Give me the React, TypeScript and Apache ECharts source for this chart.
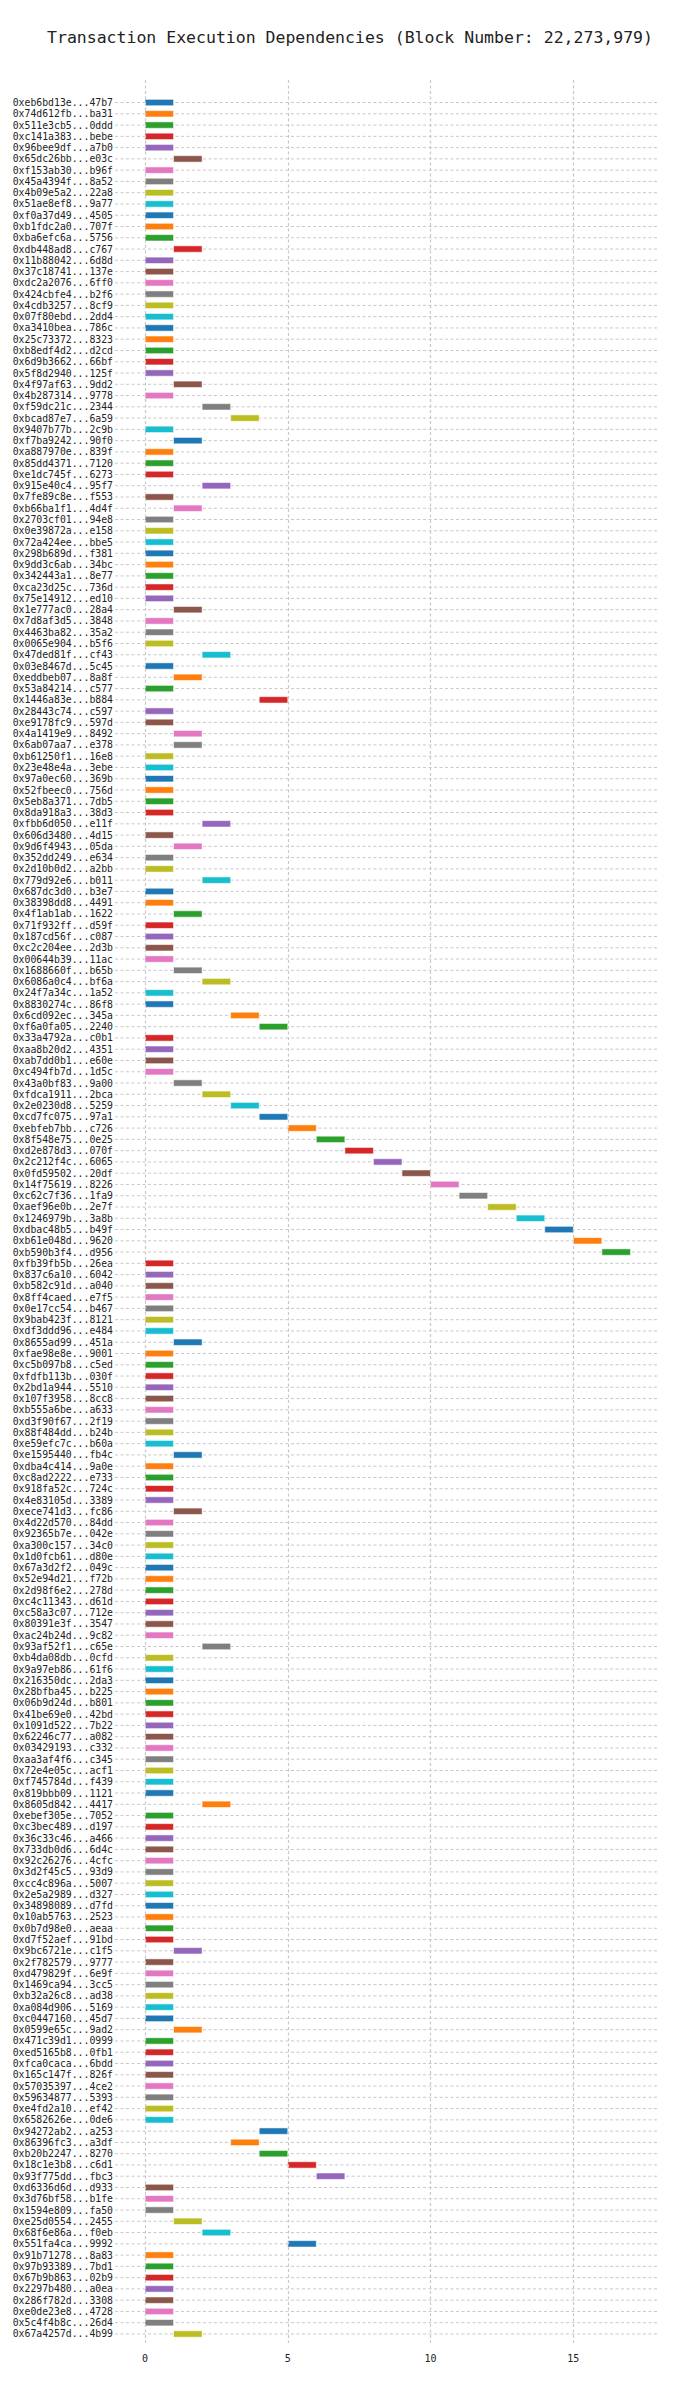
import { useEffect, useRef } from "react";
import * as echarts from "echarts";

const TITLE = "Transaction Execution Dependencies (Block Number: 22,273,979)";

const txLabels = [
  "0xeb6bd13e...47b7", "0x74d612fb...ba31", "0x511e3cb5...0ddd", "0xc141a383...bebe", "0x96bee9df...a7b0",
  "0x65dc26bb...e03c", "0xf153ab30...b96f", "0x45a4394f...8a52", "0x4b09e5a2...22a8", "0x51ae8ef8...9a77",
  "0xf0a37d49...4505", "0xb1fdc2a0...707f", "0xba6efc6a...5756", "0xdb448ad8...c767", "0x11b88042...6d8d",
  "0x37c18741...137e", "0xdc2a2076...6ff0", "0x424cbfe4...b2f6", "0x4cdb3257...8cf9", "0x07f80ebd...2dd4",
  "0xa3410bea...786c", "0x25c73372...8323", "0xb8edf4d2...d2cd", "0x6d9b3662...66bf", "0x5f8d2940...125f",
  "0x4f97af63...9dd2", "0x4b287314...9778", "0xf59dc21c...2344", "0xbcad87e7...6a59", "0x9407b77b...2c9b",
  "0xf7ba9242...90f0", "0xa887970e...839f", "0x85dd4371...7120", "0xe1dc745f...6273", "0x915e40c4...95f7",
  "0x7fe89c8e...f553", "0xb66ba1f1...4d4f", "0x2703cf01...94e8", "0x0e39872a...e158", "0x72a424ee...bbe5",
  "0x298b689d...f381", "0x9dd3c6ab...34bc", "0x342443a1...8e77", "0xca23d25c...736d", "0x75e14912...ed10",
  "0x1e777ac0...28a4", "0x7d8af3d5...3848", "0x4463ba82...35a2", "0x0065e904...b5f6", "0x47ded81f...cf43",
  "0x03e8467d...5c45", "0xeddbeb07...8a8f", "0x53a84214...c577", "0x1446a83e...b884", "0x28443c74...c597",
  "0xe9178fc9...597d", "0x4a1419e9...8492", "0x6ab07aa7...e378", "0xb61250f1...16e8", "0x23e48e4a...3ebe",
  "0x97a0ec60...369b", "0x52fbeec0...756d", "0x5eb8a371...7db5", "0x8da918a3...38d3", "0xfbb6d050...e11f",
  "0x606d3480...4d15", "0x9d6f4943...05da", "0x352dd249...e634", "0x2d10b0d2...a2bb", "0x779d92e6...b011",
  "0x687dc3d0...b3e7", "0x38398dd8...4491", "0x4f1ab1ab...1622", "0x71f932ff...d59f", "0x187cd56f...c087",
  "0xc2c204ee...2d3b", "0x00644b39...11ac", "0x1688660f...b65b", "0x6086a0c4...bf6a", "0x24f7a34c...1a52",
  "0x8830274c...86f8", "0x6cd092ec...345a", "0xf6a0fa05...2240", "0x33a4792a...c0b1", "0xaa8b20d2...4351",
  "0xab7dd0b1...e60e", "0xc494fb7d...1d5c", "0x43a0bf83...9a00", "0xfdca1911...2bca", "0x2e0230d8...5259",
  "0xcd7fc075...97a1", "0xebfeb7bb...c726", "0x8f548e75...0e25", "0xd2e878d3...070f", "0x2c212f4c...6065",
  "0x0fd59502...20df", "0x14f75619...8226", "0xc62c7f36...1fa9", "0xaef96e0b...2e7f", "0x1246979b...3a8b",
  "0xdbac48b5...b49f", "0xb61e048d...9620", "0xb590b3f4...d956", "0xfb39fb5b...26ea", "0x837c6a10...6042",
  "0xb582c91d...a040", "0x8ff4caed...e7f5", "0x0e17cc54...b467", "0x9bab423f...8121", "0xdf3ddd96...e484",
  "0x8655ad99...451a", "0xfae98e8e...9001", "0xc5b097b8...c5ed", "0xfdfb113b...030f", "0x2bd1a944...5510",
  "0x107f3958...8cc8", "0xb555a6be...a633", "0xd3f90f67...2f19", "0x88f484dd...b24b", "0xe59efc7c...b60a",
  "0xe1595440...fb4c", "0xdba4c414...9a0e", "0xc8ad2222...e733", "0x918fa52c...724c", "0x4e83105d...3389",
  "0xece741d3...fc86", "0x4d22d570...84dd", "0x92365b7e...042e", "0xa300c157...34c0", "0x1d0fcb61...d80e",
  "0x67a3d2f2...049c", "0x52e94d21...f72b", "0x2d98f6e2...278d", "0xc4c11343...d61d", "0xc58a3c07...712e",
  "0x80391e3f...3547", "0xac24b24d...9c82", "0x93af52f1...c65e", "0xb4da08db...0cfd", "0x9a97eb86...61f6",
  "0x216350dc...2da3", "0x28bfba45...b225", "0x06b9d24d...b801", "0x41be69e0...42bd", "0x1091d522...7b22",
  "0x62246c77...a082", "0x03429193...c332", "0xaa3af4f6...c345", "0x72e4e05c...acf1", "0xf745784d...f439",
  "0x819bbb09...1121", "0x8605d842...4417", "0xebef305e...7052", "0xc3bec489...d197", "0x36c33c46...a466",
  "0x733db0d6...6d4c", "0x92c26276...4cfc", "0x3d2f45c5...93d9", "0xcc4c896a...5007", "0x2e5a2989...d327",
  "0x34898089...d7fd", "0x10ab5763...2523", "0x0b7d98e0...aeaa", "0xd7f52aef...91bd", "0x9bc6721e...c1f5",
  "0x2f782579...9777", "0xd479829f...6e9f", "0x1469ca94...3cc5", "0xb32a26c8...ad38", "0xa084d906...5169",
  "0xc0447160...45d7", "0x0599e65c...9ad2", "0x471c39d1...0999", "0xed5165b8...0fb1", "0xfca0caca...6bdd",
  "0x165c147f...826f", "0x57035397...4ce2", "0x59634877...5393", "0xe4fd2a10...ef42", "0x6582626e...0de6",
  "0x94272ab2...a253", "0x86396fc3...a3df", "0xb20b2247...8270", "0x18c1e3b8...c6d1", "0x93f775dd...fbc3",
  "0xd6336d6d...d933", "0x3d76bf58...b1fe", "0x1594e809...fa50", "0xe25d0554...2455", "0x68f6e86a...f0eb",
  "0x551fa4ca...9992", "0x91b71278...8a83", "0x97b93389...7bd1", "0x67b9b863...02b9", "0x2297b480...a0ea",
  "0x286f782d...3308", "0xe0de23e8...4728", "0x5c4f4b8c...26d4", "0x67a4257d...4b99",
];

// execution start slot of each transaction (each one lasts one slot)
const txStarts = [
  0, 0, 0, 0, 0, 1, 0, 0, 0, 0,
  0, 0, 0, 1, 0, 0, 0, 0, 0, 0,
  0, 0, 0, 0, 0, 1, 0, 2, 3, 0,
  1, 0, 0, 0, 2, 0, 1, 0, 0, 0,
  0, 0, 0, 0, 0, 1, 0, 0, 0, 2,
  0, 1, 0, 4, 0, 0, 1, 1, 0, 0,
  0, 0, 0, 0, 2, 0, 1, 0, 0, 2,
  0, 0, 1, 0, 0, 0, 0, 1, 2, 0,
  0, 3, 4, 0, 0, 0, 0, 1, 2, 3,
  4, 5, 6, 7, 8, 9, 10, 11, 12, 13,
  14, 15, 16, 0, 0, 0, 0, 0, 0, 0,
  1, 0, 0, 0, 0, 0, 0, 0, 0, 0,
  1, 0, 0, 0, 0, 1, 0, 0, 0, 0,
  0, 0, 0, 0, 0, 0, 0, 2, 0, 0,
  0, 0, 0, 0, 0, 0, 0, 0, 0, 0,
  0, 2, 0, 0, 0, 0, 0, 0, 0, 0,
  0, 0, 0, 0, 1, 0, 0, 0, 0, 0,
  0, 1, 0, 0, 0, 0, 0, 0, 0, 0,
  4, 3, 4, 5, 6, 0, 0, 0, 1, 2,
  5, 0, 0, 0, 0, 0, 0, 0, 1,
];

const xTicks = [0, 5, 10, 15];

const palette = ["#1f77b4", "#ff7f0e", "#2ca02c", "#d62728", "#9467bd", "#8c564b", "#e377c2", "#7f7f7f", "#bcbd22", "#17becf"];

const MONO = "'DejaVu Sans Mono', monospace";

export default function App() {
  const ref = useRef<HTMLDivElement | null>(null);

  useEffect(() => {
    document.body.style.margin = "0";
    if (!ref.current) return;
    const chart = echarts.init(ref.current, undefined, { renderer: "svg" });
    const data = txStarts.map((s, i) => [s, i, s + 1]);
    chart.setOption({
      animation: false,
      backgroundColor: "#ffffff",
      title: {
        text: TITLE,
        left: "center",
        top: 24,
        textStyle: { fontFamily: MONO, fontSize: 16.5, fontWeight: "normal", color: "#222" },
      },
      grid: { left: 115, right: 41, top: 80, bottom: 45 },
      xAxis: {
        type: "value",
        min: -1.05,
        max: 18,
        axisLine: { show: false },
        axisTick: { show: false },
        splitLine: { show: false },
        axisLabel: { customValues: xTicks, fontFamily: MONO, fontSize: 10, color: "#222", margin: 10 },
      },
      yAxis: {
        type: "value",
        inverse: true,
        min: -2,
        max: 198.8,
        interval: 1,
        axisLine: { show: false },
        axisTick: { show: false },
        splitLine: { show: false },
        axisLabel: {
          fontFamily: MONO,
          fontSize: 9.8,
          color: "#222",
          margin: 2,
          formatter: (v: number) => txLabels[v] ?? "",
        },
      },
      series: [
        {
          type: "custom",
          data,
          encode: { x: [0, 2], y: 1 },
          renderItem: (params: any, api: any) => {
            const row = api.value(1);
            const a = api.coord([api.value(0), row]);
            const b = api.coord([api.value(2), row]);
            const cs = params.coordSys;
            const color = palette[row % palette.length];
            return {
              type: "group",
              children: [
                {
                  type: "line",
                  shape: { x1: cs.x, y1: a[1], x2: cs.x + cs.width, y2: a[1] },
                  style: { stroke: "#c8c8c8", lineWidth: 1, lineDash: [3, 2.5] },
                },
                {
                  type: "rect",
                  shape: { x: a[0], y: a[1] - 3.2, width: b[0] - a[0], height: 6.4 },
                  style: { fill: color, stroke: "rgba(255,255,255,0.55)", lineWidth: 1 },
                  z2: 10,
                },
              ],
            };
          },
          markLine: {
            silent: true,
            symbol: "none",
            label: { show: false },
            lineStyle: { color: "#c8c8c8", width: 1.2, type: [3, 2.5] },
            data: xTicks.map((v) => ({ xAxis: v })),
          },
        },
      ],
    });
    return () => chart.dispose();
  }, []);

  return <div ref={ref} style={{ width: 700, height: 2388 }} />;
}
